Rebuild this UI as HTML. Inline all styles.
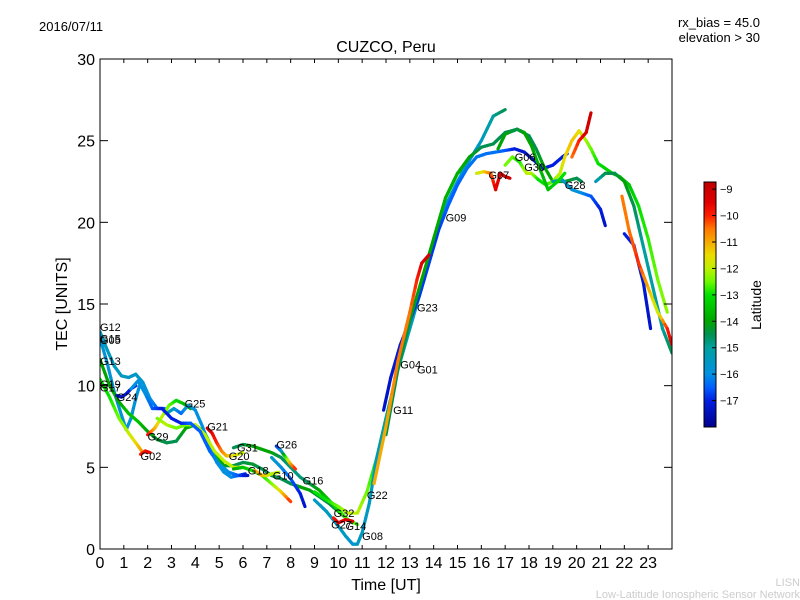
<!DOCTYPE html>
<html><head><meta charset="utf-8"><style>
body{margin:0;background:#fff;}
svg{display:block;font-family:"Liberation Sans","DejaVu Sans",sans-serif;}
</style></head><body>
<svg id="chart" width="800" height="600" viewBox="0 0 800 600" xmlns="http://www.w3.org/2000/svg">
<defs>
<linearGradient id="cmap" x1="0" y1="0" x2="0" y2="1"></linearGradient>
<clipPath id="plotclip"><rect x="100" y="59" width="572" height="490"/></clipPath>
</defs>
<rect width="800" height="600" fill="#fff"/>
<text x="39" y="31" font-size="13">2016/07/11</text>
<text x="760" y="27" font-size="13" text-anchor="end">rx_bias = 45.0</text>
<text x="760" y="42" font-size="13" text-anchor="end">elevation &gt; 30</text>
<text x="386" y="52" font-size="16" text-anchor="middle">CUZCO, Peru</text>
<text x="0" y="0" font-size="16" text-anchor="middle" transform="translate(67,304) rotate(-90)">TEC [UNITS]</text>
<text x="386" y="590" font-size="16" text-anchor="middle">Time [UT]</text>
<text x="800" y="586" font-size="11" fill="#ccc" text-anchor="end">LISN</text>
<text x="800" y="598" font-size="11" fill="#ccc" text-anchor="end">Low-Latitude Ionospheric Sensor Network</text>
<g id="marks" clip-path="url(#plotclip)"></g>
<g id="axes"></g>
<g id="labels"></g>
<rect x="704" y="182" width="12" height="245" fill="url(#cmap)" stroke="#000" stroke-width="1"/>
<g id="cbticks"></g>
<text font-size="14" text-anchor="middle" transform="translate(761,305) rotate(-90)">Latitude</text>
</svg>
<script>
const xTicks=[0,1,2,3,4,5,6,7,8,9,10,11,12,13,14,15,16,17,18,19,20,21,22,23];
const yTicks=[0,5,10,15,20,25,30];
const cbTicks=[-9,-10,-11,-12,-13,-14,-15,-16,-17];
const satNames=["G15","G05","G13","G19","G24a","G29","G02","G25","G25b","G24","G21","G31","G26","G18","G10","G16","G22","G08","G11","G09","G23","G07","G06","RED20","G28","LATE1","LATE2","LATE3","G30","G32"];
const G15_t=[0,0.3,0.6,0.9,1.2,1.5,1.8,2.1,2.4,2.7],G15_tec=[13.3,12.2,11.2,10.6,10.5,10.7,10.2,9.2,8.6,8.6],G15_lat=[-15.5,-15.5,-15.5,-15.5,-15.6,-15.6,-15.7,-16,-16.4,-16.6];
const G05_t=[0,0.3,0.6,0.9,1.1,1.3,1.5,1.7],G05_tec=[12.9,11.4,9.6,8.2,7.3,8,9.2,10.2],G05_lat=[-15.8,-15.8,-15.8,-15.8,-15.8,-15.8,-15.9,-16];
const G13_t=[0,0.4,0.8,1.2,1.6,2,2.4,2.8,3.2,3.6,4,4.4,4.8,5.2,5.6,6,6.4,6.8,7.2,7.6,8,8.4,8.8,9.2,9.6,10,10.4,10.8],G13_tec=[11.6,10,9,8.3,7.8,7.2,6.7,6.5,6.6,7.4,7.6,7.1,5.9,5.1,5.1,5.3,5.2,4.9,4.5,4.3,4,3.8,3.6,3.2,2.8,2.3,1.8,1.5],G13_lat=[-14,-14,-14,-13.5,-13.5,-14,-14.3,-14.5,-14.5,-14,-13.5,-13.2,-13.5,-14,-14.5,-14.5,-14.3,-14.5,-14.5,-14.5,-14.5,-14,-14,-14.5,-14.5,-14.2,-13.5,-12.5];
const G19_t=[0,0.4,0.8,1.2,1.5,1.8],G19_tec=[10.4,9.3,8,7.1,6.5,5.9],G19_lat=[-13,-13,-12.5,-12,-11.5,-10.8];
const G24a_t=[0.7,0.9,1.1,1.3,1.5],G24a_tec=[9.4,9.3,9.5,9.8,10],G24a_lat=[-17.3,-17.3,-17.3,-17.2,-17];
const G29_t=[2,2.3,2.6,2.9,3.2,3.5,3.8],G29_tec=[7,7.4,8.1,8.8,9.1,8.9,8.6],G29_lat=[-9.5,-11,-12,-12.5,-13,-13.5,-14];
const G02_t=[1.7,1.9,2.1],G02_tec=[5.8,6,5.9],G02_lat=[-10,-9.8,-9.6];
const G25_t=[2.8,3.1,3.4,3.7,4,4.3,4.6,4.9,5.2,5.5,5.8,6.1],G25_tec=[8.3,8.6,8.3,8.8,8.5,7.5,6.2,5.3,4.7,4.4,4.5,4.6],G25_lat=[-15,-15.5,-16.5,-15.5,-16,-16,-16,-16,-16,-16,-16.5,-17];
const G25b_t=[2.4,2.8,3.2,3.6,4,4.4,4.8,5.2,5.6,6,6.4],G25b_tec=[8,7.6,7.4,7.6,7.6,7,6,5.4,5,5,4.8],G25b_lat=[-12.5,-12,-12.5,-12.5,-12,-12,-12,-12,-12,-12,-12];
const G24_t=[1.3,1.6,1.9,2.2,2.6,3,3.4,3.8,4.2,4.6,5,5.4,5.8,6.2],G24_tec=[9.8,10.3,9.5,8.6,8.6,8,7.7,7.7,7.2,6,5.2,4.7,4.5,4.5],G24_lat=[-16,-16,-16,-16.5,-17,-17,-17,-16.5,-16.5,-16.5,-16,-16,-16.5,-17.3];
const G21_t=[4.5,4.7,4.9,5.1,5.3,5.6,6],G21_tec=[7.4,7.1,6.5,6,5.7,5.7,5.9],G21_lat=[-9,-9.5,-10,-10.5,-11,-11.5,-12];
const G31_t=[5.6,6,6.4,6.8,7.2,7.6,8,8.4,8.8,9.2,9.6,10,10.4],G31_tec=[6.2,6.4,6.3,6.1,5.9,5.6,5,4.4,4,3.6,3,2.4,1.8],G31_lat=[-14.5,-14.5,-14,-14,-14,-14.5,-14.8,-14.8,-14.5,-14,-13.5,-13,-12.5];
const G26_t=[7.4,7.6,7.8,8,8.2],G26_tec=[6.3,6,5.6,5.2,4.9],G26_lat=[-17,-16,-13,-11,-10];
const G18_t=[5.6,6,6.4,6.8,7.2,7.6,8],G18_tec=[4.9,5,4.8,4.5,4,3.5,2.9],G18_lat=[-14,-13.5,-13,-13,-12.5,-11.5,-10];
const G10_t=[6.5,6.8,7,7.2,7.5],G10_tec=[4.8,4.5,4.5,4.6,4.7],G10_lat=[-11,-11,-11.5,-12,-12];
const G16_t=[7.2,7.6,8,8.4,8.6],G16_tec=[5.6,5,4.3,3.4,2.6],G16_lat=[-15.5,-16,-16.5,-17,-17.3];
const G22_t=[9,9.5,10,10.4,10.8,11.2,11.6,12,12.5,13,13.5,14,14.5,15,15.5],G22_tec=[3.5,3,2.6,2.2,2.2,3.5,5.5,8,11,13.5,16,19,21.5,23,23.5],G22_lat=[-13,-13,-12.5,-12,-12,-12.5,-13,-13,-12.5,-12,-12,-12.5,-13,-13.5,-13.5];
const G08_t=[9,9.5,10,10.3,10.6,10.8,11,11.3,11.6,12,12.5,13,13.5,14,14.5,15,15.5,16,16.5,17],G08_tec=[3,2.3,1.4,0.8,0.3,0.3,1,2.8,5.5,8,11,13.5,16,18.5,21,22.5,23.8,25,26.5,26.9],G08_lat=[-15.5,-15.5,-15.5,-15.5,-15.8,-15.5,-15.5,-15.5,-15.5,-15,-15,-15.5,-15.8,-16,-16,-16,-15.8,-15.5,-15,-14.5];
const G11_t=[11.9,12.2,12.6,13,13.4,13.8,14.2,14.6,15,15.4,15.8,16.2,16.6,17,17.4,17.8,18.2,18.6,19,19.4,19.6],G11_tec=[8.5,10.5,12.5,14,15.5,17.5,19.5,21,22.3,23.3,24,24.2,24.3,24.4,24.5,24.3,23.8,23.3,23.5,24,24.2],G11_lat=[-17.3,-17.3,-17,-17,-16.8,-16.8,-16.8,-16.5,-16.5,-16.3,-16.3,-16.3,-16.3,-16.5,-17,-17.3,-17.3,-17.3,-17,-17,-17];
const G09_t=[12,12.5,13,13.5,14,14.5,15,15.5,16,16.5,17,17.5,18,18.3,18.6,19,19.5,20,20.2],G09_tec=[7,11,14,16.5,19,21.5,23,24,24.6,24.8,25.5,25.7,25.3,24.5,23.5,22.5,22.5,22.7,22.5],G09_lat=[-14.5,-14.5,-14.3,-14,-14,-13.8,-13.8,-14,-14.5,-14.5,-14.5,-14.5,-14.5,-14.5,-14,-14,-14.2,-14.5,-14.5];
const G23_t=[11.5,12,12.5,13,13.3,13.5,13.8],G23_tec=[4,7.5,11.5,14.5,16.5,17.5,18],G23_lat=[-11,-11,-10.5,-10.5,-10,-9.5,-9.2];
const G07_t=[15.8,16.1,16.4,16.6,16.8,17,17.2],G07_tec=[23,23.1,23,22,23,22.8,22.7],G07_lat=[-12,-11.5,-10.5,-9.5,-9.5,-9.2,-9];
const G06_t=[17,17.3,17.6,17.9,18.1,18.4,18.7,19,19.3,19.5,19.8,20.1,20.4,20.6,20.9,21.2,21.5,21.8,22.2,22.6,23,23.4,23.8],G06_tec=[23.5,24,23.7,23,23,22.6,22.3,22.5,23,24,25,25.6,25,24.5,23.6,23.3,23,22.8,22.3,21,19,16.5,14.5],G06_lat=[-12.5,-12.5,-13,-12,-12,-13,-13,-12.5,-12,-11.5,-11.2,-11.5,-12.2,-12.5,-13,-13.2,-13.2,-13.5,-13.5,-13,-12.8,-12.5,-12.3];
const RED20_t=[19.8,20.1,20.4,20.6],RED20_tec=[24,25,25.5,26.7],RED20_lat=[-10.5,-10,-9.3,-9];
const G28_t=[19,19.4,19.8,20.2,20.6,21,21.2],G28_tec=[22.5,22.6,22,21.8,21.6,20.8,19.8],G28_lat=[-15,-15.5,-15.8,-16,-16.5,-17,-17.3];
const LATE1_t=[20.8,21.2,21.6,22,22.4,22.8,23.2,23.6,24],LATE1_tec=[22.5,23,23,22.5,21,18.5,16,13.5,12],LATE1_lat=[-15.5,-14.5,-14.5,-14,-14.5,-15,-15,-15,-14.5];
const LATE2_t=[22,22.4,22.8,23.1],LATE2_tec=[19.3,18.6,16.3,13.5],LATE2_lat=[-17,-17,-17.2,-17.3];
const LATE3_t=[21.9,22.2,22.6,23,23.4,23.8,24],LATE3_tec=[21.6,19.5,17.5,16,14.5,13.5,12.5],LATE3_lat=[-10.5,-10.5,-10,-11,-12,-10,-9.5];
const G30_t=[16.7,17,17.5,17.8,18.1,18.4,18.8,19.2,19.5],G30_tec=[24.5,25.4,25.7,25.5,24.7,23.5,22,22.5,23],G30_lat=[-14,-14,-14.5,-14,-14,-13.8,-13.5,-13.2,-13];
const G32_t=[9.8,10,10.3,10.6],G32_tec=[1.9,1.6,1.8,1.7],G32_lat=[-10,-9.5,-9.5,-9.5];
const labelNames=["G12","G15","G05","G13","G19","G17","G24","G25","G21","G29","G02","G31","G26","G20","G18","G10","G16","G32","G22","G27","G14","G08","G11","G01","G04","G23","G09","G07","G06","G30","G28"];
const labelT=[0,0,0,0,0,0,0.7,3.55,4.5,2,1.7,5.75,7.4,5.4,6.2,7.25,8.5,9.8,11.2,9.7,10.3,11,12.3,13.3,12.6,13.3,14.5,16.3,17.4,17.8,19.5];
const labelTec=[13.6,12.9,12.8,11.5,10.1,9.9,9.3,8.9,7.5,6.9,5.7,6.2,6.4,5.7,4.8,4.5,4.2,2.2,3.3,1.5,1.4,0.8,8.5,11,11.3,14.8,20.3,22.9,24.0,23.4,22.3];

const X=t=>100+t*(572/24);
const Y=v=>549-v*(490/30);
const LATMIN=-18,LATMAX=-8.73;
// custom colormap stops (latitude -> rgb)
const CM=[[-8.73,[190,0,0]],[-9.5,[225,0,0]],[-10,[255,30,0]],[-10.5,[255,120,0]],[-11,[245,170,0]],[-11.5,[235,220,0]],[-12,[190,240,0]],[-12.5,[110,250,0]],[-13,[0,225,0]],[-14,[0,165,0]],[-14.5,[0,145,80]],[-15,[0,160,160]],[-16,[0,145,225]],[-16.5,[0,95,255]],[-17,[0,30,225]],[-18,[0,0,140]]];
function cmap(lat){lat=Math.max(LATMIN,Math.min(LATMAX,lat));
 for(let i=0;i<CM.length-1;i++){const a=CM[i],b=CM[i+1];
  if(lat<=a[0]&&lat>=b[0]){const f=(a[0]-lat)/(a[0]-b[0]);
   const c=a[1].map((v,k)=>Math.round(v+(b[1][k]-v)*f));return `rgb(${c[0]},${c[1]},${c[2]})`;}}
 return 'rgb(0,0,140)';}
const NS="http://www.w3.org/2000/svg";
const grad=document.getElementById('cmap');
CM.forEach(s=>{const st=document.createElementNS(NS,'stop');
 st.setAttribute('offset',(LATMAX-s[0])/(LATMAX-LATMIN));st.setAttribute('stop-color',cmap(s[0]));grad.appendChild(st);});
const marks=document.getElementById('marks');
satNames.forEach(n=>{
 const t=eval(n+"_t"),v=eval(n+"_tec"),l=eval(n+"_lat");
 const g=document.createElementNS(NS,'g');
 
 
 for(let i=0;i<t.length-1;i++){
  const S=4;
  for(let k=0;k<S;k++){
   const a=k/S,b=(k+1)/S;
   const ln=document.createElementNS(NS,'line');
   ln.setAttribute('x1',X(t[i]+(t[i+1]-t[i])*a));ln.setAttribute('y1',Y(v[i]+(v[i+1]-v[i])*a));
   ln.setAttribute('x2',X(t[i]+(t[i+1]-t[i])*b));ln.setAttribute('y2',Y(v[i]+(v[i+1]-v[i])*b));
   ln.setAttribute('stroke',cmap(l[i]+(l[i+1]-l[i])*(a+b)/2));
   ln.setAttribute('stroke-width','3.2');ln.setAttribute('stroke-linecap','round');
   
   
   g.appendChild(ln);
  }
 }
 marks.appendChild(g);
});
const lab=document.getElementById('labels');
labelNames.forEach((n,i)=>{
 const tx=document.createElementNS(NS,'text');
 
 
 tx.setAttribute('x',X(labelT[i]));tx.setAttribute('y',Y(labelTec[i])+4);
 tx.setAttribute('font-size','11');tx.textContent=n;lab.appendChild(tx);
});
const ax=document.getElementById('axes');
function add(tag,attrs,name,txt){const e=document.createElementNS(NS,tag);for(const k in attrs)e.setAttribute(k,attrs[k]);
 
 
 if(txt!==undefined)e.textContent=txt;ax.appendChild(e);return e;}
add('rect',{x:100,y:59,width:572,height:490,fill:'none',stroke:'#000','stroke-width':1},'plot-frame');
xTicks.forEach(t=>{const x=X(t);
 add('line',{x1:x,y1:549,x2:x,y2:545,stroke:'#000'},'x-tick');
 add('line',{x1:x,y1:59,x2:x,y2:63,stroke:'#000'},'x-tick-top');
 add('text',{x:x,y:568,'font-size':16,'text-anchor':'middle'},'x-tick-label',String(t));});
yTicks.forEach(v=>{const y=Y(v);
 add('line',{x1:100,y1:y,x2:108,y2:y,stroke:'#000'},'y-tick');
 add('line',{x1:672,y1:y,x2:664,y2:y,stroke:'#000'},'y-tick-right');
 add('text',{x:95,y:y+6,'font-size':16,'text-anchor':'end'},'y-tick-label',String(v));});
const cb=document.getElementById('cbticks');
cbTicks.forEach(v=>{const y=427-(v-LATMIN)*(245/(LATMAX-LATMIN));
 const l=document.createElementNS(NS,'line');
 
 
 l.setAttribute('x1',712);l.setAttribute('x2',716);l.setAttribute('y1',y);l.setAttribute('y2',y);l.setAttribute('stroke','#000');cb.appendChild(l);
 const t=document.createElementNS(NS,'text');
 
 
 t.setAttribute('x',720);t.setAttribute('y',y+4);t.setAttribute('font-size','11');t.textContent='\u2212'+Math.abs(v);cb.appendChild(t);});
</script>
</body></html>
